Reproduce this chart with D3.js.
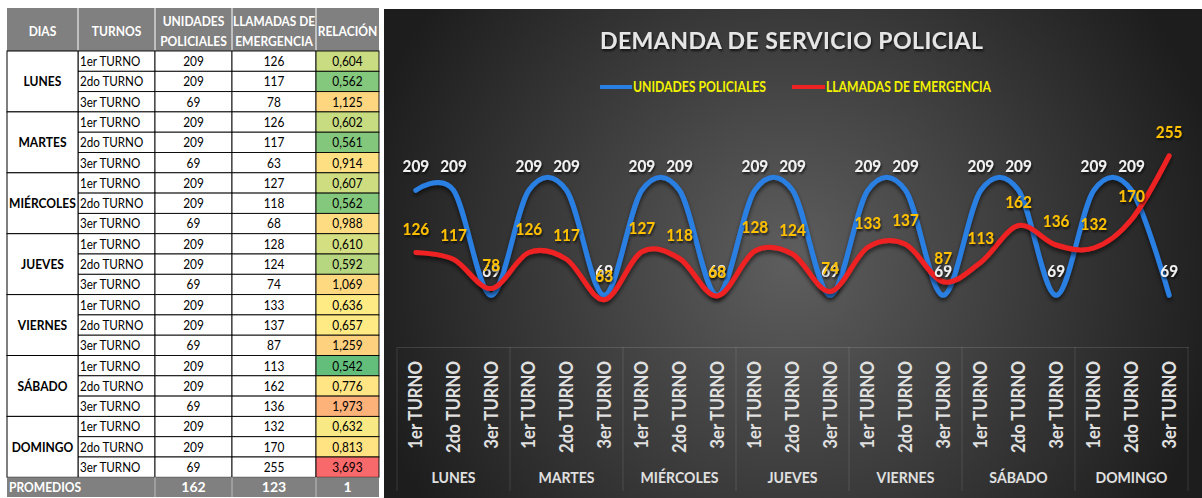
<!DOCTYPE html>
<html><head><meta charset="utf-8">
<script src="https://cdn.jsdelivr.net/npm/d3@7/dist/d3.min.js"></script>
<style>body{margin:0;background:#fff;} svg{display:block;}</style>
</head><body>
<svg id="c" width="1202" height="498"></svg>
<script>
// ---------- DATA ----------
const dias = ["LUNES","MARTES","MIÉRCOLES","JUEVES","VIERNES","SÁBADO","DOMINGO"];
const turnos = ["1er TURNO","2do TURNO","3er TURNO"];
const unidades = [209,209,69, 209,209,69, 209,209,69, 209,209,69, 209,209,69, 209,209,69, 209,209,69];
const llamadas = [126,117,78, 126,117,63, 127,118,68, 128,124,74, 133,137,87, 113,162,136, 132,170,255];
const relacion = [0.604,0.562,1.125, 0.602,0.561,0.914, 0.607,0.562,0.988, 0.610,0.592,1.069, 0.636,0.657,1.259, 0.542,0.776,1.973, 0.632,0.813,3.693];
const promedios = [162,123,1];
const headers = [["DIAS"],["TURNOS"],["UNIDADES","POLICIALES"],["LLAMADAS DE","EMERGENCIA"],["RELACIÓN"]];
const promLabel = "PROMEDIOS";
const chartTitle = "DEMANDA DE SERVICIO POLICIAL";
const seriesNames = ["UNIDADES POLICIALES","LLAMADAS DE EMERGENCIA"];

const cats = [];
dias.forEach(d => turnos.forEach(t => cats.push({dia:d, turno:t})));

const svg = d3.select("#c");
const FONT = "Lato, 'Open Sans', sans-serif";
const defs = svg.append("defs");

// narrow glyphs a little to emulate a condensed office font
function condense(sel, f, maxW) {
  sel.each(function() {
    let w = this.getComputedTextLength() * f;
    if (maxW && w > maxW) w = maxW;
    d3.select(this).attr("textLength", w).attr("lengthAdjust", "spacingAndGlyphs");
  });
  return sel;
}

// ---------- TABLE ----------
const colX = [7,78,155,232,316,379];
const headTop = 8, headBot = 51, rowH = 20.3;
const promTop = headBot + 21*rowH, promBot = 497;
const tbl = svg.append("g").attr("font-family", FONT);
const fmt = v => d3.format(".3f")(v).replace(".", ",");
const relColor = d3.scaleLinear()
  .domain([d3.min(relacion), d3.median(relacion), d3.max(relacion)])
  .range(["#63BE7B","#FFEB84","#F8696B"]);

tbl.append("rect").attr("x", colX[0]).attr("y", headTop).attr("width", colX[5]-colX[0]).attr("height", headBot-headTop).attr("fill", "#808080");
headers.forEach((h, j) => {
  const cx = (colX[j]+colX[j+1])/2;
  const cw = colX[j+1]-colX[j] - 2;
  if (j>0) tbl.append("line").attr("x1", colX[j]).attr("x2", colX[j]).attr("y1", headTop).attr("y2", headBot).attr("stroke", "#fff").attr("stroke-width", 1);
  h.forEach((s, k) => {
    const yy = h.length === 1 ? (headTop+headBot)/2 + 1 : headTop + 13 + k*19.5;
    const t = tbl.append("text").attr("x", cx).attr("y", yy).attr("dy", "0.36em").attr("text-anchor", "middle")
      .attr("fill", "#fff").attr("font-weight", "bold").attr("font-size", 14).text(s);
    condense(t, 0.86, cw);
  });
});

// data rows
cats.forEach((c, i) => {
  const y0 = headBot + i*rowH;
  for (let j = 1; j < 5; j++) {
    tbl.append("rect").attr("x", colX[j]).attr("y", y0).attr("width", colX[j+1]-colX[j]).attr("height", rowH)
      .attr("fill", j === 4 ? relColor(relacion[i]) : "#fff").attr("stroke", "#000").attr("stroke-width", 0.9);
  }
  const ty = y0 + rowH/2;
  condense(tbl.append("text").attr("x", colX[1]+2).attr("y", ty).attr("dy", "0.36em").attr("font-size", 13.5).attr("fill", "#000").text(c.turno), 0.86);
  [[unidades[i], 2], [llamadas[i], 3], [fmt(relacion[i]), 4]].forEach(([v, j]) => {
    condense(tbl.append("text").attr("x", (colX[j]+colX[j+1])/2).attr("y", ty).attr("dy", "0.36em")
      .attr("text-anchor", "middle").attr("font-size", 13.5).attr("fill", "#000").text(v), 0.88);
  });
});
dias.forEach((d, k) => {
  const y0 = headBot + 3*k*rowH;
  tbl.append("rect").attr("x", colX[0]).attr("y", y0).attr("width", colX[1]-colX[0]).attr("height", 3*rowH)
    .attr("fill", "#fff").attr("stroke", "#000").attr("stroke-width", 1);
  condense(tbl.append("text").attr("x", (colX[0]+colX[1])/2).attr("y", y0 + 1.5*rowH).attr("dy", "0.36em")
    .attr("text-anchor", "middle").attr("font-weight", "bold").attr("font-size", 14).attr("fill", "#000").text(d), 0.86, 69);
});
// promedios
tbl.append("rect").attr("x", colX[0]).attr("y", promTop).attr("width", colX[5]-colX[0]).attr("height", promBot-promTop).attr("fill", "#808080");
[2,3,4].forEach(j => tbl.append("line").attr("x1", colX[j]).attr("x2", colX[j]).attr("y1", promTop).attr("y2", promBot).attr("stroke", "#bdbdbd"));
condense(tbl.append("text").attr("x", colX[0]+2).attr("y", (promTop+promBot)/2).attr("dy", "0.36em").attr("fill", "#fff")
  .attr("font-weight", "bold").attr("font-size", 14).text(promLabel), 0.86);
promedios.forEach((v, k) => {
  const j = k+2;
  tbl.append("text").attr("x", (colX[j]+colX[j+1])/2).attr("y", (promTop+promBot)/2).attr("dy", "0.36em")
    .attr("text-anchor", "middle").attr("fill", "#fff").attr("font-weight", "bold").attr("font-size", 14).text(v);
});

// ---------- CHART ----------
const bg = defs.append("radialGradient").attr("id", "bg").attr("gradientUnits", "userSpaceOnUse")
  .attr("cx", 790).attr("cy", 260).attr("r", 440);
bg.append("stop").attr("offset", "0").attr("stop-color", "#5e5e5e");
bg.append("stop").attr("offset", "1").attr("stop-color", "#1d1d1d");
const sh = defs.append("filter").attr("id", "sh").attr("x", "-10%").attr("y", "-30%").attr("width", "120%").attr("height", "160%");
sh.append("feDropShadow").attr("dx", 0).attr("dy", 3).attr("stdDeviation", 2).attr("flood-color", "#000").attr("flood-opacity", 0.6);
const tsh = defs.append("filter").attr("id", "tsh").attr("x", "-10%").attr("y", "-30%").attr("width", "120%").attr("height", "160%");
tsh.append("feDropShadow").attr("dx", 1).attr("dy", 2).attr("stdDeviation", 1.2).attr("flood-color", "#000").attr("flood-opacity", 0.7);

const ch = svg.append("g").attr("font-family", FONT);
ch.append("rect").attr("x", 384).attr("y", 9).attr("width", 818).attr("height", 489).attr("fill", "url(#bg)");

const x = d3.scaleBand().domain(d3.range(cats.length)).range([397, 1188]);
const y = d3.scaleLinear().domain([0, 300]).range([347, 122]);
const cx = i => x(i) + x.bandwidth()/2;

// title
ch.append("text").attr("x", 600).attr("y", 49).attr("textLength", 383).attr("lengthAdjust", "spacing")
  .attr("font-size", 23).attr("font-weight", "bold").attr("fill", "#e6e6e6").attr("filter", "url(#tsh)").text(chartTitle);

// legend
const legColors = ["#2a7fe3", "#ee2222"];
const legPos = [[600, 632, 133], [792, 825, 165]];
seriesNames.forEach((n, k) => {
  const [x1, x2, w] = legPos[k];
  ch.append("line").attr("x1", x1).attr("x2", x2).attr("y1", 87).attr("y2", 87).attr("stroke", legColors[k]).attr("stroke-width", 4);
  ch.append("text").attr("x", x2+1).attr("y", 87).attr("dy", "0.36em").attr("textLength", w).attr("lengthAdjust", "spacingAndGlyphs")
    .attr("font-size", 15).attr("font-weight", "bold").attr("fill", "#f2f200").text(n);
});

// axis
const axis = ch.append("g").attr("transform", "translate(0,347)")
  .call(d3.axisBottom(x).tickSize(0).tickFormat(i => cats[i].turno));
axis.select(".domain").attr("stroke", "rgba(255,255,255,0.13)");
axis.selectAll(".tick text").attr("transform", "rotate(-90)").attr("x", -14).attr("y", 0).attr("dy", "0.36em")
  .attr("text-anchor", "end").attr("font-family", FONT).attr("font-size", 18).attr("font-weight", "bold").attr("fill", "#e0e0e0");
condense(axis.selectAll(".tick text"), 0.93);
// group separators & labels
d3.range(dias.length + 1).forEach(g => {
  const gx = g < dias.length ? x(3*g) : x.range()[1];
  ch.append("line").attr("x1", gx).attr("x2", gx).attr("y1", 347).attr("y2", 491).attr("stroke", "rgba(255,255,255,0.12)");
});
dias.forEach((d, g) => {
  condense(ch.append("text").attr("x", (x(3*g) + x(3*g+2) + x.bandwidth())/2).attr("y", 477).attr("dy", "0.36em")
    .attr("text-anchor", "middle").attr("font-size", 16).attr("font-weight", "bold").attr("fill", "#e0e0e0").text(d), 0.88);
});

// lines
const line = d3.line().x((v, i) => cx(i)).y(v => y(v)).curve(d3.curveCardinal.tension(0));
ch.append("path").attr("d", line(unidades)).attr("fill", "none").attr("stroke", legColors[0]).attr("stroke-width", 5)
  .attr("stroke-linecap", "round").attr("filter", "url(#sh)");
ch.append("path").attr("d", line(llamadas)).attr("fill", "none").attr("stroke", legColors[1]).attr("stroke-width", 5)
  .attr("stroke-linecap", "round").attr("filter", "url(#sh)");

// data labels
const labColors = ["#f2f2f2", "#ffc000"];
[unidades, llamadas].forEach((arr, k) => {
  const lab = ch.append("g").selectAll("text").data(arr).join("text")
    .attr("x", (v, i) => cx(i)).attr("y", v => y(v) - 24).attr("dy", "0.36em").attr("text-anchor", "middle")
    .attr("font-size", 17).attr("font-weight", "bold").attr("fill", labColors[k]).attr("filter", "url(#tsh)")
    .text(v => v);
  condense(lab, 0.9);
});
</script>
</body></html>
